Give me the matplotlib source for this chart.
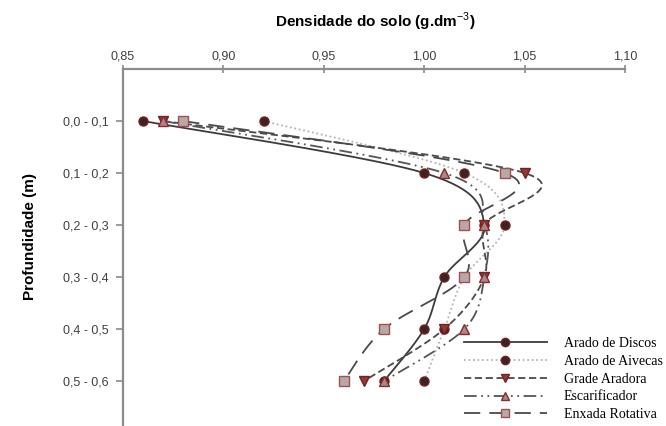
import numpy as np
import matplotlib
matplotlib.use('Agg')
import matplotlib.pyplot as plt
from matplotlib.lines import Line2D

plt.rcParams['font.family'] = ['Liberation Sans', 'DejaVu Sans']
plt.rcParams['mathtext.fontset'] = 'custom'
plt.rcParams['mathtext.rm'] = 'Liberation Sans'

# profundidades (camadas)
camadas = ['0,0 - 0,1', '0,1 - 0,2', '0,2 - 0,3', '0,3 - 0,4', '0,4 - 0,5', '0,5 - 0,6']
x_ticks = [0.85, 0.90, 0.95, 1.00, 1.05, 1.10]

# densidade do solo por tratamento
arado_discos = [0.86, 1.00, 1.03, 1.01, 1.00, 0.98]
arado_aivecas = [0.92, 1.02, 1.04, 1.02, 1.01, 1.00]
grade_aradora = [0.87, 1.05, 1.03, 1.03, 1.01, 0.97]
escarificador = [0.87, 1.01, 1.03, 1.03, 1.02, 0.98]
enxada_rotativa = [0.88, 1.04, 1.02, 1.02, 0.98, 0.96]

series = [
    ('Arado de Discos', arado_discos, '-', '#3c3c3c', 'o', '#3a2424', '#7a1f1f'),
    ('Arado de Aivecas', arado_aivecas, (0, (1, 1.5)), '#b4b4b4', 'o', '#3a2424', '#7a1f1f'),
    ('Grade Aradora', grade_aradora, (0, (4, 2)), '#4a4a4a', 'v', '#8c3a3a', '#7a1f1f'),
    ('Escarificador', escarificador, (0, (7, 2.5, 1, 2.5, 1, 2.5)), '#555555', '^', '#a88888', '#8a2a2a'),
    ('Enxada Rotativa', enxada_rotativa, (0, (9, 5)), '#4a4a4a', 's', '#b8a8a8', '#a05050'),
]


def suavizar(xs, ys, n=40):
    # curva suavizada estilo Excel (Bezier / Catmull-Rom)
    p = np.column_stack([xs, ys]).astype(float)
    p = np.vstack([p[0], p, p[-1]])
    out = []
    t = np.linspace(0, 1, n)[:, None]
    for i in range(1, len(p) - 2):
        p0, p1, p2, p3 = p[i - 1], p[i], p[i + 1], p[i + 2]
        c1 = p1 + (p2 - p0) / 6
        c2 = p2 - (p3 - p1) / 6
        seg = ((1 - t) ** 3) * p1 + 3 * ((1 - t) ** 2) * t * c1 + 3 * (1 - t) * t ** 2 * c2 + t ** 3 * p2
        out.append(seg)
    out = np.vstack(out)
    return out[:, 0], out[:, 1]


fig = plt.figure(figsize=(6.66, 4.26), dpi=100)
ax = fig.add_axes([123 / 666, 0.0, (625 - 123) / 666, 1 - 69 / 426])

pos = np.arange(1, len(camadas) + 1)
handles = []
for nome, vals, ls, lc, mk, mf, me in series:
    sx, sy = suavizar(vals, pos)
    ax.plot(sx, sy, linestyle=ls, color=lc, lw=1.3, zorder=2)
    handles.append(Line2D([], [], linestyle=ls, color=lc, lw=1.3, marker=mk,
                          markersize=6, markerfacecolor=mf, markeredgecolor=me, markeredgewidth=1.0))
for nome, vals, ls, lc, mk, mf, me in series:
    ax.plot(vals, pos, linestyle='none', marker=mk, markersize=6.5,
            markerfacecolor=mf, markeredgecolor=me, markeredgewidth=1.0, zorder=3)

ax.set_xlim(0.85, 1.10)
ax.set_ylim(357 / 52, 0)
ax.set_xticks(x_ticks)
ax.set_xticklabels([f'{v:.2f}'.replace('.', ',') for v in x_ticks])
ax.set_yticks(pos)
ax.set_yticklabels(camadas)

ax.xaxis.tick_top()
for s in ['bottom', 'right']:
    ax.spines[s].set_visible(False)
for s in ['top', 'left']:
    ax.spines[s].set_color('#8c8c8c')
    ax.spines[s].set_linewidth(1.6)
ax.tick_params(axis='x', direction='inout', length=6, width=1.2, color='#8c8c8c',
               labelsize=9, labelcolor='#404040', pad=2)
ax.tick_params(axis='y', direction='out', length=5, width=1.2, color='#8c8c8c',
               labelsize=9, labelcolor='#404040', pad=5)

fig.text(375 / 666, 1 - 22 / 426, r'Densidade do solo (g.dm$^{-3}$)', ha='center', va='center',
         fontsize=11, fontweight='bold')
fig.text(30 / 666, 1 - 237 / 426, 'Profundidade (m)', ha='center', va='center',
         rotation=90, fontsize=11, fontweight='bold')

ax.legend(handles, [s[0] for s in series], loc='lower right', bbox_to_anchor=(1.10, -0.022),
          frameon=False, numpoints=1, handlelength=6, handletextpad=1.2, labelspacing=0.35,
          prop={'family': 'Liberation Serif', 'size': 10})

fig.savefig('out.png', dpi=100)
